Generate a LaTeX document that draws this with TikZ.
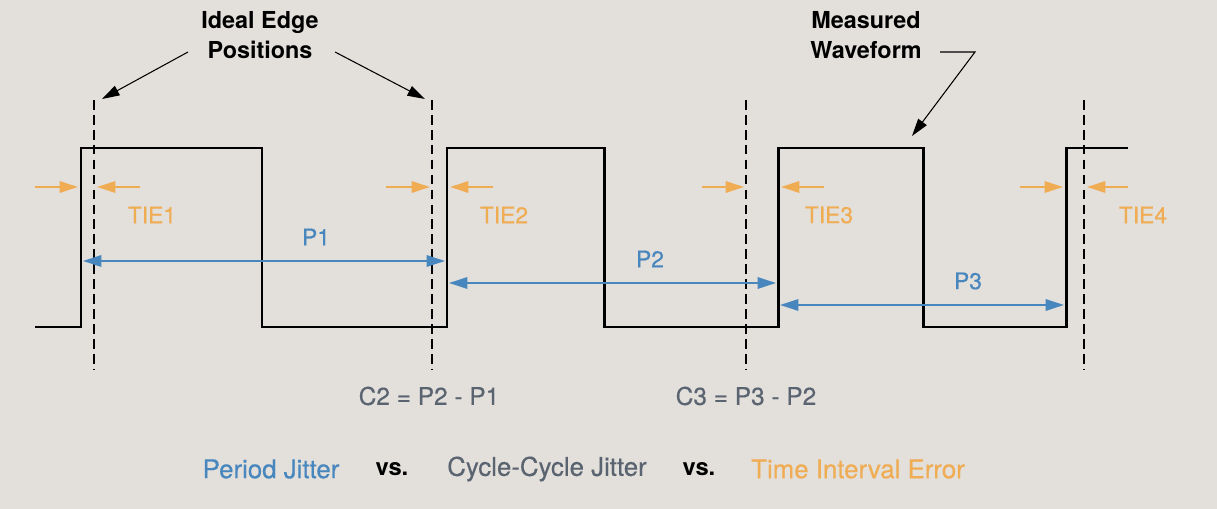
\documentclass[tikz,border=0pt]{standalone}
\usepackage{fontspec}
\setmainfont{TeX Gyre Heros}
\newfontfamily\medfont[FakeBold=0.35]{TeX Gyre Heros}
\usetikzlibrary{arrows.meta}
\definecolor{bg}{RGB}{227,223,219}
\definecolor{tieorange}{RGB}{240,172,82}
\definecolor{perblue}{RGB}{72,135,190}
\definecolor{cycgrey}{RGB}{90,99,112}
\begin{document}
\begin{tikzpicture}[x=0.02cm,y=-0.02cm,
  wave/.style={black, line width=1.7pt, line join=miter},
  ideal/.style={black, line width=0.9pt, dash pattern=on 5.5pt off 3pt},
  tiearrow/.style={tieorange, line width=1.1pt, -{Triangle[length=10.5pt,width=6.5pt]}},
  perarrow/.style={perblue, line width=1.1pt, {Triangle[length=10.5pt,width=6.5pt]}-{Triangle[length=10.5pt,width=6.5pt]}},
  callout/.style={black, line width=0.6pt, -{Triangle[length=10pt,width=6pt]}},
  blackbold/.style={font=\fontsize{13.3}{17}\bfseries, text=black, align=center, inner sep=0pt},
  tielbl/.style={font=\medfont\fontsize{13}{15}\selectfont, text=tieorange, inner sep=0pt},
  perlbl/.style={font=\medfont\fontsize{13}{15}\selectfont, text=perblue, inner sep=0pt},
  cyclbl/.style={font=\medfont\fontsize{13.9}{16}\selectfont, text=cycgrey, inner sep=0pt},
  botlbl/.style={font=\medfont\fontsize{14.7}{17}\selectfont, inner sep=0pt},
  vslbl/.style={font=\fontsize{13.5}{16}\bfseries, text=black, inner sep=0pt}
]
\fill[bg] (0,0) rectangle (1217,509);
\useasboundingbox (0,0) rectangle (1217,509);

% waveform
\draw[wave] (35,327) -- (81,327) -- (81,148) -- (262,148) -- (262,327) -- (447,327)
  -- (447,148) -- (604,148) -- (604,327) -- (778,327) -- (778,148) -- (923,148)
  -- (923,327) -- (1066,327) -- (1066,148) -- (1128,148);

% ideal edge positions
\foreach \n/\x in {1/94,2/432,3/746,4/1084}{
  \coordinate (it\n) at (\x,100);
  \coordinate (ib\n) at (\x,370);
  \draw[ideal] (it\n) -- (ib\n);
}

% TIE arrows
\foreach \a/\b/\c/\d in {35/78/140/97, 386/430/493/450, 702/744/824/781, 1020/1063/1128/1087}{
  \coordinate (ta) at (\a,187); \coordinate (tb) at (\b,187);
  \coordinate (tc) at (\c,187); \coordinate (td) at (\d,187);
  \draw[tiearrow] (ta) -- (tb);
  \draw[tiearrow] (tc) -- (td);
}
\node[tielbl] (tie1) at (152,215) {TIE1};
\node[tielbl] (tie2) at (504,215) {TIE2};
\node[tielbl] (tie3) at (829,215) {TIE3};
\node[tielbl] (tie4) at (1143,215) {TIE4};

% period arrows
\coordinate (p1a) at (83,261);  \coordinate (p1b) at (445,261);
\coordinate (p2a) at (449,283); \coordinate (p2b) at (776,283);
\coordinate (p3a) at (780,305); \coordinate (p3b) at (1064,305);
\draw[perarrow] (p1a) -- (p1b);
\draw[perarrow] (p2a) -- (p2b);
\draw[perarrow] (p3a) -- (p3b);
\node[perlbl] (lp1) at (316,237) {P1};
\node[perlbl] (lp2) at (650,259) {P2};
\node[perlbl] (lp3) at (968,281) {P3};

% callouts
\node[blackbold] (iep) at (260,35) {Ideal Edge\\Positions};
\coordinate (c1s) at (188,52); \coordinate (c1e) at (102,99);
\coordinate (c2s) at (335,52); \coordinate (c2e) at (425,99);
\draw[callout] (c1s) -- (c1e);
\draw[callout] (c2s) -- (c2e);

\node[blackbold] (mw) at (866,35) {Measured\\Waveform};
\coordinate (m1) at (940,52); \coordinate (m2) at (975,52); \coordinate (m3) at (912,136);
\draw[callout] (m1) -- (m2) -- (m3);

% cycle-cycle
\node[cyclbl] (cc2) at (429,396) {C2 = P2 - P1};
\node[cyclbl] (cc3) at (746,396) {C3 = P3 - P2};

% bottom legend
\node[botlbl, text=perblue] (lgp) at (271,469) {Period Jitter};
\node[vslbl] (vs1) at (392,469) {vs.};
\node[botlbl, text=cycgrey] (lgc) at (547,469) {Cycle-Cycle Jitter};
\node[vslbl] (vs2) at (699,469) {vs.};
\node[botlbl, text=tieorange] (lgt) at (858,469) {Time Interval Error};
\end{tikzpicture}
\end{document}
